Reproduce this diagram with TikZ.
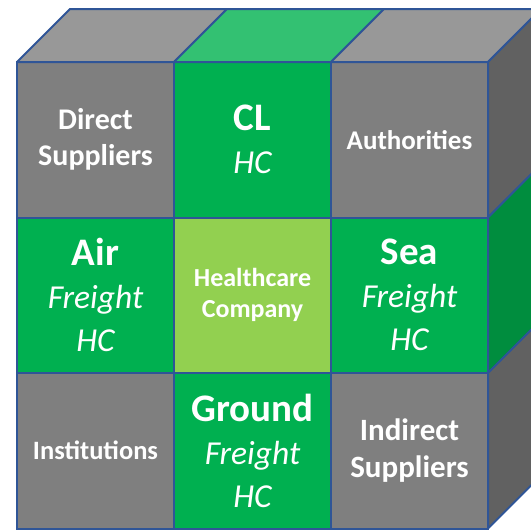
\documentclass[tikz,border=0pt]{standalone}
\usepackage{fontspec}
\setmainfont{Carlito}
\usetikzlibrary{positioning}
\definecolor{edgeblue}{HTML}{2F5597}
\definecolor{frontgray}{HTML}{7F7F7F}
\definecolor{topgray}{HTML}{989898}
\definecolor{sidegray}{HTML}{616161}
\definecolor{frontgreen}{HTML}{00B050}
\definecolor{topgreen}{HTML}{33C172}
\definecolor{sidegreen}{HTML}{008D3E}
\definecolor{lightgreen}{HTML}{92D050}
\tikzset{gcell/.style={rectangle,draw=edgeblue,fill=frontgray,line width=2pt,
	   minimum width=157pt,minimum height=155.5pt,inner sep=0pt,outer sep=0pt,
	   text=white,align=center,font=\bfseries\fontsize{27}{33}\selectfont},
	 ncell/.style={gcell,fill=frontgreen,font=\itshape\fontsize{33.5}{43}\selectfont},
	 lcell/.style={gcell,fill=lightgreen,font=\bfseries\fontsize{26}{31}\selectfont},
	 face/.style={draw=edgeblue,line width=2pt,line join=round},
	 node distance = 0pt
	 }
\newcommand{\bigword}[1]{{\bfseries\upshape\fontsize{39}{43}\selectfont #1}}

\begin{document}
\begin{tikzpicture}[x=1pt,y=-1pt] % cube of partners round the company
	\useasboundingbox (0,0) rectangle (531,530);
	\clip (0,0) rectangle (531,530);
	\node[gcell,font=\bfseries\fontsize{30}{36}\selectfont] (ds) at (95.5,139.75) {Direct\\Suppliers};
	\node[ncell] (cl) [right= of ds] {\bigword{CL}\\HC};
	\node[gcell] (au) [right= of cl] {Authorities};
	\node[ncell] (air) [below= of ds] {\bigword{Air}\\Freight\\HC};
	\node[lcell] (hc) [right= of air] {Healthcare\\Company};
	\node[ncell] (sea) [right= of hc] {\bigword{Sea}\\Freight\\HC};
	\node[gcell,font=\bfseries\fontsize{26.5}{32}\selectfont] (ins) [below= of air] {Institutions};
	\node[ncell] (gr) [right= of ins] {\bigword{Ground}\\Freight\\HC};
	\node[gcell,font=\bfseries\fontsize{31}{37}\selectfont] (is) [right= of gr] {Indirect\\Suppliers};
	% top
	\draw[face,fill=topgray] (ds.north west) -- ++(53,-53) -- ([shift={(53,-53)}]ds.north east) -- (ds.north east) -- cycle;
	\draw[face,fill=topgreen] (cl.north west) -- ++(53,-53) -- ([shift={(53,-53)}]cl.north east) -- (cl.north east) -- cycle;
	\draw[face,fill=topgray] (au.north west) -- ++(53,-53) -- ([shift={(53,-53)}]au.north east) -- (au.north east) -- cycle;
	% right side
	\draw[face,fill=sidegray] (au.north east) -- ++(53,-53) -- ([shift={(53,-53)}]au.south east) -- (au.south east) -- cycle;
	\draw[face,fill=sidegreen] (sea.north east) -- ++(53,-53) -- ([shift={(53,-53)}]sea.south east) -- (sea.south east) -- cycle;
	\draw[face,fill=sidegray] (is.north east) -- ++(53,-53) -- ([shift={(53,-53)}]is.south east) -- (is.south east) -- cycle;
\end{tikzpicture}
\end{document}
